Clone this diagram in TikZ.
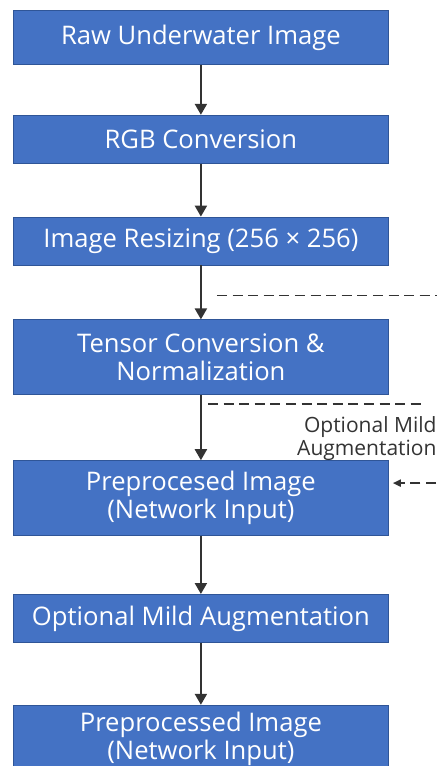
\documentclass[tikz,border=0pt]{standalone}
\usepackage{fontspec}
\setmainfont{Open Sans}
\usepackage{tikz}
\usetikzlibrary{shapes,arrows.meta,positioning}
\definecolor{boxblue}{HTML}{4472C4}
\definecolor{boxedge}{HTML}{2F5597}
\definecolor{inkgray}{HTML}{333333}
\tikzstyle{block} = [rectangle, draw=boxedge, fill=boxblue, text=white,
    align=center, minimum width=187.5pt, minimum height=24pt, inner sep=0pt,
    font=\fontsize{12.8}{14}\selectfont]
\tikzstyle{tall} = [minimum height=37.5pt]
\tikzstyle{note} = [text=inkgray, align=right, inner sep=0pt,
    font=\fontsize{10.5}{10}\selectfont]
\tikzset{
  line/.style ={draw, inkgray, line width=1.1pt, -{Triangle[length=5.5pt,width=6pt]}},
  optline/.style ={draw, inkgray, line width=0.9pt, dash pattern=on 5pt off 2.8pt},
  optarrow/.style ={optline, -{Triangle[length=4pt,width=3.5pt]}, shorten >=2pt}
}

\begin{document}
\begin{tikzpicture}
   \useasboundingbox (0,0) rectangle (218pt,-383pt);
   \node [block, minimum height=27pt, anchor=north west] (raw) at (6.5pt,-5pt) {Raw Underwater Image};
   \node [block, below=25pt of raw] (rgb) {RGB Conversion};
   \node [block, below=26.5pt of rgb] (resize) {Image Resizing (256 × 256)};
   \node [block, tall, below=27pt of resize] (tensor) {Tensor Conversion \&\\Normalization};
   \node [block, tall, below=32.5pt of tensor] (prep) {Preprocesed Image\\(Network Input)};
   \node [block, below=29pt of prep] (augment) {Optional Mild Augmentation};
   \node [block, tall, minimum height=34pt, below=31pt of augment] (netin) {Preprocessed Image\\(Network Input)};
   \path [line] (raw) -- (rgb);
   \path [line] (rgb) -- (resize);
   \path [line] (resize) -- (tensor);
   \path [line] (tensor) -- (prep);
   \path [line] (prep) -- (augment);
   \path [line] (augment) -- (netin);
   % side branch
   \coordinate [below right=15pt and 8pt of resize.south] (branch_top);
   \coordinate [below right=4.5pt and 3.5pt of tensor.south] (branch_mid);
   \coordinate (branch_in) at ([yshift=7.5pt]prep.east -| 218pt,0);
   \path [optline] (branch_top) -- ++(110pt,0);
   \path [optline] (branch_mid) -- ++(108pt,0) coordinate (branch_end);
   \node [note, below left=6pt and -6.5pt of branch_end] (aug_note) {Optional Mild\\Augmentation};
   \path [optarrow] (branch_in) -- (branch_in -| prep.east);
\end{tikzpicture}
\end{document}
